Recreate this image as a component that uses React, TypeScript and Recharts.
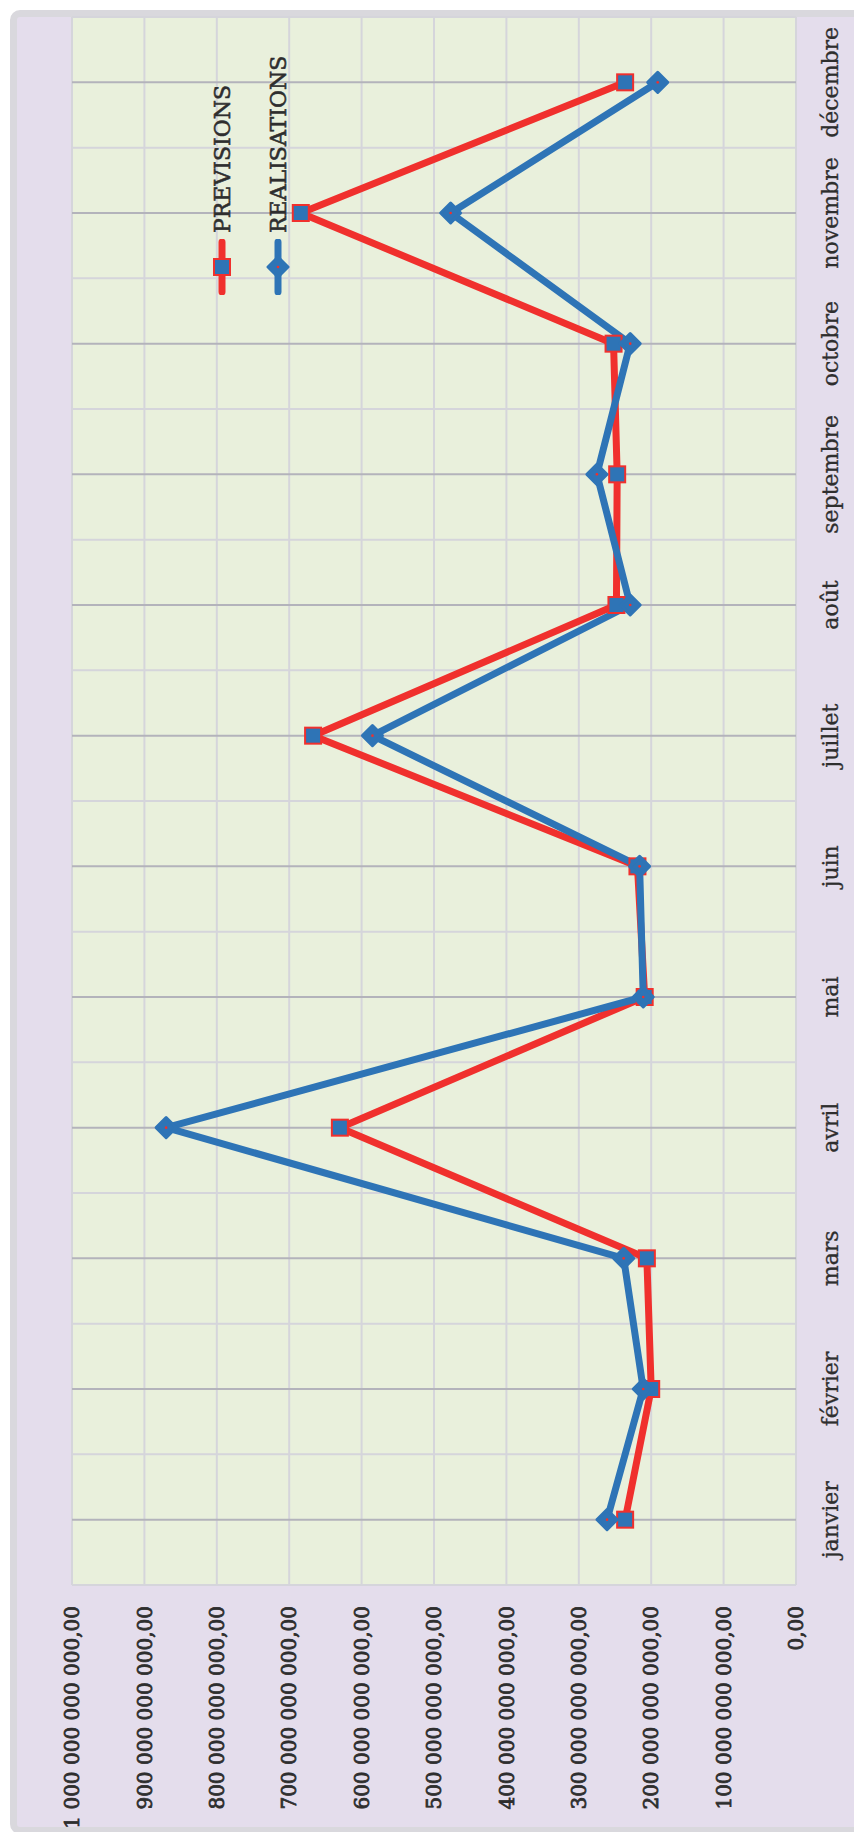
// Prévisions vs réalisations - line chart drawn landscape, then turned a quarter turn

import React from 'react';
import { LineChart, Line, XAxis, YAxis, CartesianGrid, Legend } from 'recharts';

const months = [
  'janvier', 'février', 'mars', 'avril', 'mai', 'juin',
  'juillet', 'août', 'septembre', 'octobre', 'novembre', 'décembre',
];
// values in milliards
const previsions = [236, 200, 206, 630, 209, 219, 667, 248, 247, 252, 684, 236];
const realisations = [261, 211, 238, 870, 211, 216, 585, 229, 275, 229, 477, 191];
const valueTicks = [0, 100, 200, 300, 400, 500, 600, 700, 800, 900, 1000];

const RED = '#f0302d';
const BLUE = '#2e74b6';
const FONT = '"DejaVu Serif", serif';

const data = months.map((month, i) => ({
  month,
  previsions: previsions[i],
  realisations: realisations[i],
}));

const formatValue = (v: number) => {
  const s = String(Math.round(v)) + (v === 0 ? '' : '000000000');
  return s.replace(/\B(?=(\d{3})+(?!\d))/g, ' ') + ',00';
};

function SquareDot(props: any) {
  const { cx, cy } = props;
  if (cx == null || cy == null) return null;
  return <rect x={cx - 8} y={cy - 8} width={16} height={16} fill={BLUE} stroke={RED} strokeWidth={2} />;
}

function DiamondDot(props: any) {
  const { cx, cy } = props;
  if (cx == null || cy == null) return null;
  const r = 10;
  return (
    <g>
      <polygon
        points={`${cx},${cy - r} ${cx + r},${cy} ${cx},${cy + r} ${cx - r},${cy}`}
        fill={BLUE}
        stroke={BLUE}
        strokeWidth={3}
        strokeLinejoin="round"
      />
      <circle cx={cx} cy={cy} r={1.3} fill={RED} />
    </g>
  );
}

// light lines on the category band edges, darker ones on the categories
const bandEdges = ({ offset }: any) =>
  [...months, ''].map((_, i) => offset.left + (i * offset.width) / months.length);
const bandCentres = ({ offset }: any) =>
  months.map((_, i) => offset.left + ((i + 0.5) * offset.width) / months.length);

function LegendBox({ payload }: any) {
  return (
    <div>
      {(payload || []).map((entry: any) => {
        const isPrev = entry.dataKey === 'previsions';
        const colour = isPrev ? RED : BLUE;
        return (
          <div key={entry.dataKey} style={{ display: 'flex', alignItems: 'center', height: 56 }}>
            <svg width={56} height={24}>
              <line x1={3} y1={12} x2={53} y2={12} stroke={colour} strokeWidth={7} strokeLinecap="round" />
              {isPrev ? <SquareDot cx={28} cy={12} /> : <DiamondDot cx={28} cy={12} />}
            </svg>
            <span
              style={{
                marginLeft: 6,
                fontFamily: FONT,
                fontSize: 22,
                color: '#2e2e2e',
                WebkitTextStroke: '0.6px #2e2e2e',
              }}
            >
              {entry.value}
            </span>
          </div>
        );
      })}
    </div>
  );
}

export default function App() {
  return (
    <div style={{ position: 'absolute', left: 0, top: 0, width: 854, height: 1832, overflow: 'hidden', background: '#fff' }}>
      <div
        style={{
          position: 'absolute',
          left: 0,
          top: 0,
          width: 1832,
          height: 854,
          transformOrigin: '0 0',
          transform: 'translateY(1832px) rotate(-90deg)',
        }}
      >
        <div
          style={{
            position: 'absolute',
            left: -2,
            top: 10,
            width: 1824,
            height: 870,
            boxSizing: 'border-box',
            border: '7px solid #d9d8dd',
            borderRadius: 10,
            background: '#e4ddec',
          }}
        />
        <div style={{ position: 'absolute', left: 0, top: 0 }}>
          <LineChart width={1832} height={854} data={data} margin={{ top: 72, right: 17, bottom: 28, left: 0 }}>
            <CartesianGrid
              fill="#e9f0dc"
              stroke="#d5d5db"
              strokeWidth={2}
              verticalCoordinatesGenerator={bandEdges}
            />
            <CartesianGrid
              stroke="#b3b3bb"
              strokeWidth={2}
              horizontal={false}
              verticalCoordinatesGenerator={bandCentres}
            />
            <XAxis
              dataKey="month"
              scale="band"
              axisLine={false}
              tickLine={false}
              tickSize={0}
              tickMargin={26}
              interval={0}
              tick={{ fontFamily: FONT, fontSize: 22, fill: '#2e2e2e', stroke: '#2e2e2e', strokeWidth: 0.3 }}
            />
            <YAxis
              width={247}
              domain={[0, 1000]}
              ticks={valueTicks}
              interval={0}
              axisLine={false}
              tickLine={false}
              tickSize={0}
              tickMargin={21}
              tickFormatter={formatValue}
              tick={{ fontFamily: FONT, fontSize: 20, fill: '#2e2e2e', stroke: '#2e2e2e', strokeWidth: 0.8 }}
            />
            <Legend
              layout="vertical"
              align="center"
              verticalAlign="middle"
              wrapperStyle={{ left: 1537, top: 194, width: 280 }}
              content={<LegendBox />}
            />
            <Line
              dataKey="previsions"
              name="PREVISIONS"
              stroke={RED}
              strokeWidth={7}
              strokeLinejoin="round"
              dot={<SquareDot />}
              activeDot={false}
              isAnimationActive={false}
            />
            <Line
              dataKey="realisations"
              name="REALISATIONS"
              stroke={BLUE}
              strokeWidth={7}
              strokeLinejoin="round"
              dot={<DiamondDot />}
              activeDot={false}
              isAnimationActive={false}
            />
          </LineChart>
        </div>
      </div>
    </div>
  );
}
